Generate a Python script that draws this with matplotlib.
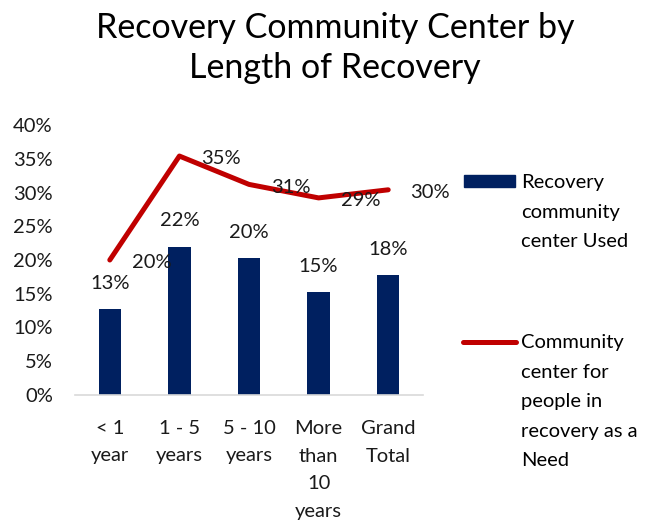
import numpy as np
import matplotlib
matplotlib.use('Agg')
import matplotlib.pyplot as plt
from matplotlib.patches import Rectangle
from matplotlib.lines import Line2D
from matplotlib.ticker import PercentFormatter

plt.rcParams['font.family'] = ['Lato', 'DejaVu Sans']

# data
categories = ['< 1\nyear', '1 - 5\nyears', '5 - 10\nyears', 'More\nthan\n10\nyears', 'Grand\nTotal']
used = [0.127, 0.220, 0.203, 0.153, 0.178]
need = [0.200, 0.354, 0.312, 0.292, 0.304]
used_label = 'Recovery\ncommunity\ncenter Used'
need_label = 'Community\ncenter for\npeople in\nrecovery as a\nNeed'
title = 'Recovery Community Center by\nLength of Recovery'

W, H = 651, 529
BLUE = '#002060'
RED = '#C00000'
FS = 14.5

fig = plt.figure(figsize=(W / 100, H / 100), dpi=100)
ax = fig.add_axes([75 / W, 1 - 395 / H, 348 / W, 270 / H])

x = np.arange(len(categories))
ax.bar(x, used, width=0.32, color=BLUE, zorder=2)
ax.plot(x, need, color=RED, lw=3.6, solid_capstyle='round', solid_joinstyle='round', zorder=3)

for xi, v in zip(x, used):
    ax.annotate(f'{v * 100:.0f}%', (xi, v), xytext=(0, 18.5), textcoords='offset points',
                ha='center', va='center', fontsize=FS, color='#1a1a1a')
for xi, v in zip(x, need):
    ax.annotate(f'{v * 100:.0f}%', (xi, v), xytext=(30, -2), textcoords='offset points',
                ha='center', va='center', fontsize=FS, color='#1a1a1a')

ax.set_xlim(-0.5, len(categories) - 0.5)
ax.set_ylim(0, 0.4)
ax.set_yticks(np.arange(0, 0.41, 0.05))
ax.yaxis.set_major_formatter(PercentFormatter(1.0, decimals=0))
ax.set_xticks(x)
ax.set_xticklabels(categories, fontsize=FS, linespacing=1.75, va='top')
ax.tick_params(axis='both', length=0, labelsize=FS, colors='#1a1a1a')
ax.tick_params(axis='x', pad=18)
ax.tick_params(axis='y', pad=16)
for s in ['top', 'right', 'left']:
    ax.spines[s].set_visible(False)
ax.spines['bottom'].set_color('#D9D9D9')
ax.spines['bottom'].set_linewidth(1.2)

fig.text(335 / W, 1 - 48 / H, title, ha='center', va='center', fontsize=24.5,
         linespacing=1.3, color='black')

# legend drawn by hand
fig.patches.append(Rectangle((464 / W, 1 - 187 / H), 51 / W, 12 / H,
                             transform=fig.transFigure, color=BLUE))
fig.text(521 / W, 1 - 174 / H, used_label, ha='left', va='top', fontsize=FS, linespacing=1.9)
fig.lines.append(Line2D([463 / W, 516 / W], [1 - 342 / H, 1 - 342 / H], transform=fig.transFigure,
                        color=RED, lw=3.6, solid_capstyle='round'))
fig.text(521 / W, 1 - 334 / H, need_label, ha='left', va='top', fontsize=FS, linespacing=1.9)

fig.savefig('out.png', dpi=100)
